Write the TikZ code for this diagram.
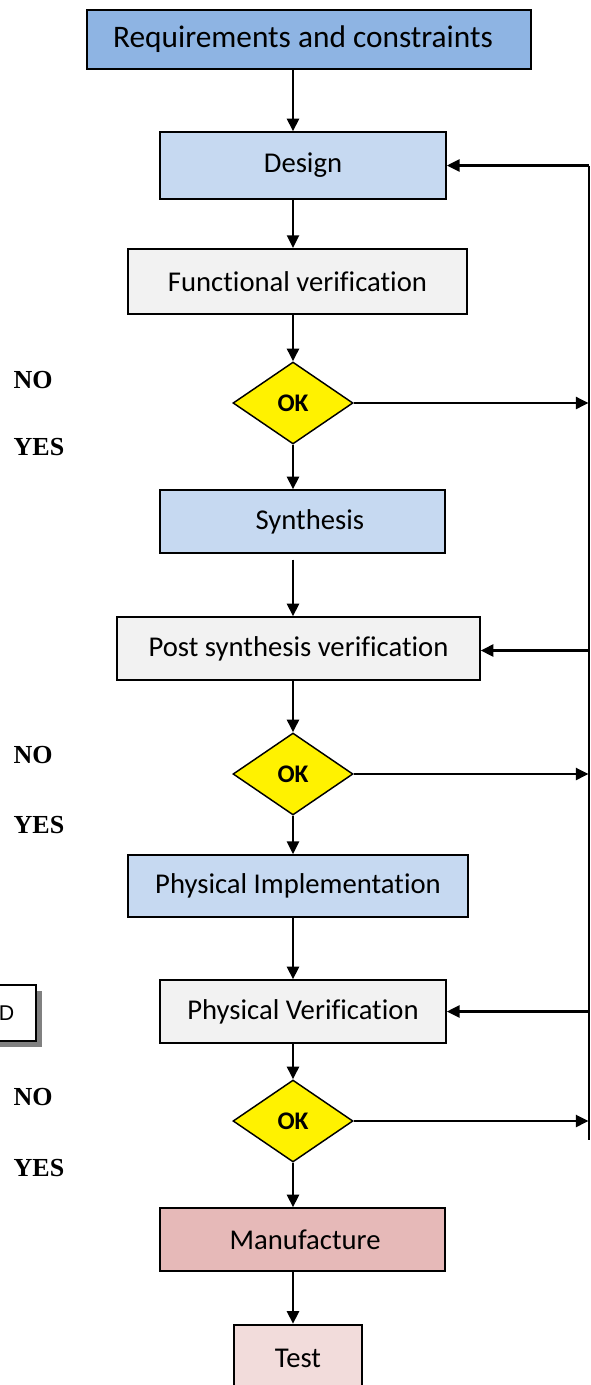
\documentclass[tikz,border=0pt]{standalone}
\usepackage{fontspec}
\setmainfont[Ligatures=NoCommon]{Carlito}
\newfontfamily\labelfont{Liberation Serif}
\newfontfamily\arialfont{Liberation Sans}
\usetikzlibrary{shapes.geometric,arrows.meta,shadows}
\definecolor{reqblue}{HTML}{8EB4E3}
\definecolor{paleblue}{HTML}{C6D9F1}
\definecolor{palegrey}{HTML}{F2F2F2}
\definecolor{rose}{HTML}{E6B9B8}
\definecolor{palerose}{HTML}{F2DCDB}
\tikzset{
  stagebox/.style={draw=black, line width=1.3pt, rectangle, inner sep=0pt, font=\fontsize{21.5}{25}\selectfont},
  designbox/.style={stagebox, fill=paleblue},
  checkbox/.style={stagebox, fill=palegrey},
  decision/.style={draw=black, line width=1.1pt, diamond, fill=yellow, inner sep=0pt,
    minimum width=90pt, minimum height=61.5pt, font=\bfseries\fontsize{19}{22}\selectfont},
  flow/.style={line width=1.8pt, -{Triangle[length=9.5pt,width=9pt]}},
  rail/.style={line width=1.5pt},
  side/.style={font=\labelfont\bfseries\fontsize{19.5}{23}\selectfont, anchor=west},
}
\begin{document}
\begin{tikzpicture}[x=0.75pt, y=-0.75pt]
\useasboundingbox (0,0) rectangle (590,1385);

% stages down the centre
\node[stagebox, fill=reqblue, minimum width=333pt, minimum height=44pt,
      font=\fontsize{23.5}{27}\selectfont] (req) at (309,39.5) {Requirements and constraints\hspace*{9pt}};
\node[designbox, minimum width=214.5pt, minimum height=50pt] (design) at (303,165.5) {Design};
\node[checkbox, minimum width=254pt, minimum height=49pt] (func) at (297.5,281.5) {Functional verification};
\node[decision] (ok1) at (293,403) {OK};
\node[designbox, minimum width=214pt, minimum height=47pt] (synth) at (302.5,521.5) {\hspace*{11pt}Synthesis};
\node[checkbox, minimum width=272pt, minimum height=47pt] (post) at (298.5,648.5) {Post synthesis verification};
\node[decision] (ok2) at (293,774) {OK};
\node[designbox, minimum width=255pt, minimum height=46.5pt] (impl) at (298,886) {Physical Implementation};
\node[checkbox, minimum width=214.5pt, minimum height=47pt] (phys) at (303,1011.5) {Physical Verification};
\node[decision] (ok3) at (293,1121) {OK};
\node[stagebox, fill=rose, minimum width=214pt, minimum height=47pt] (manuf) at (302.5,1239.5) {\hspace*{4pt}Manufacture};
\node[stagebox, fill=palerose, minimum width=96pt, minimum height=50pt] (test) at (298,1358) {Test};

% side box at the left edge
\node[draw=black, line width=1.3pt, fill=white, minimum width=44pt, minimum height=42pt,
      inner sep=0pt, font=\arialfont\fontsize{16}{19}\selectfont,
      drop shadow={shadow xshift=4.5pt, shadow yshift=-4.5pt, fill=gray, opacity=1}]
      (dbox) at (6.5,1013) {D};

% outcome labels
\node[side] (no1) at (9,380) {NO};
\node[side] (yes1) at (9,447) {YES};
\node[side] (no2) at (9,755) {NO};
\node[side] (yes2) at (9,825) {YES};
\node[side] (no3) at (9,1097) {NO};
\node[side] (yes3) at (9,1168) {YES};

% main flow along the spine
\coordinate (spine) at (293,0);
\draw[flow] (req.south -| spine) -- (design.north -| spine);
\draw[flow] (design.south -| spine) -- (func.north -| spine);
\draw[flow] (func.south -| spine) -- (ok1.north);
\draw[flow] (ok1.south) -- (synth.north -| spine);
\draw[flow] ([yshift=-4.5pt]synth.south -| spine) -- (post.north -| spine);
\draw[flow] (post.south -| spine) -- (ok2.north);
\draw[flow] (ok2.south) -- (impl.north -| spine);
\draw[flow] (impl.south -| spine) -- (phys.north -| spine);
\draw[flow] (phys.south -| spine) -- (ok3.north);
\draw[flow] (ok3.south) -- (manuf.north -| spine);
\draw[flow] (manuf.south -| spine) -- (test.north -| spine);

% feedback rail on the right
\coordinate (railx) at (588.5,0);
\coordinate (railtop) at (design.east -| railx);
\coordinate (railbot) at (588.5,1140);
\draw[rail] (railtop) -- (railbot);
\draw[flow] (ok1.east) -- (ok1.east -| railx);
\draw[flow] (ok2.east) -- (ok2.east -| railx);
\draw[flow] (ok3.east) -- (ok3.east -| railx);
\draw[flow] (railtop) -- (design.east);
\draw[flow] ([yshift=-1.5pt]post.east -| railx) -- ([yshift=-1.5pt]post.east);
\draw[flow] (phys.east -| railx) -- (phys.east);
\end{tikzpicture}
\end{document}
